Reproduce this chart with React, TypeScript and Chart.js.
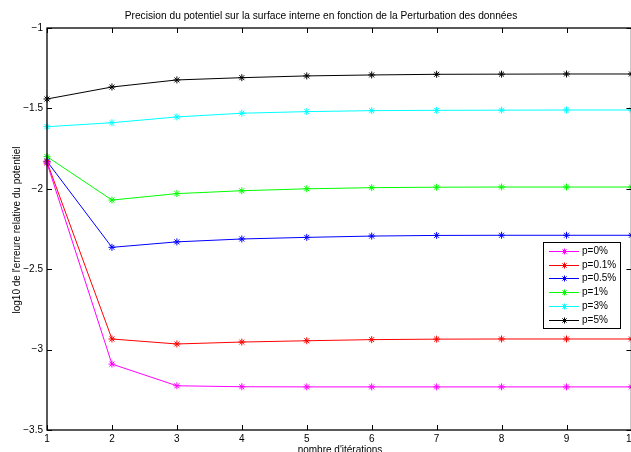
import React, { useEffect, useRef } from "react";
import { Chart, registerables } from "chart.js";

Chart.register(...registerables);

const iterations = [1, 2, 3, 4, 5, 6, 7, 8, 9, 10];
const seriesLabels = ["p=0%", "p=0.1%", "p=0.5%", "p=1%", "p=3%", "p=5%"];
const seriesColors = ["#ff00ff", "#ff0000", "#0000ff", "#00ff00", "#00ffff", "#000000"];
const p0 = [-1.84, -3.09, -3.225, -3.231, -3.232, -3.232, -3.232, -3.232, -3.232, -3.232];
const p01 = [-1.833, -2.934, -2.965, -2.953, -2.945, -2.938, -2.935, -2.934, -2.934, -2.934];
const p05 = [-1.829, -2.364, -2.33, -2.312, -2.302, -2.294, -2.29, -2.289, -2.289, -2.289];
const p1 = [-1.8, -2.07, -2.03, -2.012, -2.0, -1.993, -1.99, -1.989, -1.989, -1.989];
const p3 = [-1.614, -1.589, -1.553, -1.53, -1.52, -1.514, -1.512, -1.511, -1.51, -1.51];
const p5 = [-1.4415, -1.367, -1.323, -1.309, -1.298, -1.292, -1.288, -1.287, -1.286, -1.286];
const seriesValues = [p0, p01, p05, p1, p3, p5];

const titleText = "Precision du potentiel sur la surface interne en fonction de la Perturbation des données";
const xTitle = "nombre d'itérations";
const yTitle = "log10 de l'erreure relative du potentiel";

const FONT = "Liberation Sans, Arial, Helvetica, sans-serif";

function drawStar(ctx: CanvasRenderingContext2D, x: number, y: number, r: number) {
  ctx.beginPath();
  for (let k = 0; k < 4; k++) {
    const ang = (k * Math.PI) / 4;
    ctx.moveTo(x - r * Math.cos(ang), y - r * Math.sin(ang));
    ctx.lineTo(x + r * Math.cos(ang), y + r * Math.sin(ang));
  }
  ctx.stroke();
}

const overlay = {
  id: "overlay",
  afterDraw(chart: any) {
    const { ctx, chartArea: a, scales } = chart;
    ctx.save();
    // frame
    ctx.strokeStyle = "#000";
    ctx.lineWidth = 1.3;
    ctx.strokeRect(a.left, a.top, a.right - a.left, a.bottom - a.top);
    ctx.lineWidth = 1;
    ctx.beginPath();
    for (const t of scales.x.ticks) {
      const px = Math.round(scales.x.getPixelForValue(t.value)) + 0.5;
      ctx.moveTo(px, a.bottom);
      ctx.lineTo(px, a.bottom - 5);
      ctx.moveTo(px, a.top);
      ctx.lineTo(px, a.top + 5);
    }
    for (const t of scales.y.ticks) {
      const py = Math.round(scales.y.getPixelForValue(t.value)) + 0.5;
      ctx.moveTo(a.left, py);
      ctx.lineTo(a.left + 5, py);
      ctx.moveTo(a.right, py);
      ctx.lineTo(a.right - 5, py);
    }
    ctx.stroke();

    // legend
    const bx = 543, by = 242, bw = 77, bh = 86;
    ctx.fillStyle = "#fff";
    ctx.fillRect(bx, by, bw, bh);
    ctx.strokeStyle = "#000";
    ctx.lineWidth = 1;
    ctx.strokeRect(bx + 0.5, by + 0.5, bw, bh);
    ctx.font = `10px ${FONT}`;
    ctx.textBaseline = "middle";
    ctx.textAlign = "left";
    chart.data.datasets.forEach((ds: any, i: number) => {
      const y = Math.round(251 + i * 13.7) + 0.5;
      ctx.strokeStyle = ds.borderColor;
      ctx.lineWidth = 1;
      ctx.beginPath();
      ctx.moveTo(549, y);
      ctx.lineTo(579, y);
      ctx.stroke();
      drawStar(ctx, 564.5, y, 3);
      ctx.fillStyle = "#000";
      ctx.fillText(ds.label, 582, y);
    });

    // titles
    ctx.fillStyle = "#000";
    ctx.font = `10.2px ${FONT}`;
    ctx.textAlign = "center";
    ctx.textBaseline = "middle";
    ctx.fillText(titleText, 321, 16);
    ctx.font = `10px ${FONT}`;
    ctx.textBaseline = "top";
    ctx.fillText(xTitle, 340, 445);
    ctx.save();
    ctx.translate(17, 230);
    ctx.rotate(-Math.PI / 2);
    ctx.textBaseline = "middle";
    ctx.fillText(yTitle, 0, 0);
    ctx.restore();
    ctx.restore();
  },
};

const fmtMinus = (v: number) => {
  const s = String(Math.round(v * 10) / 10);
  return s.replace("-", "\u2212");
};

export default function App() {
  const ref = useRef<HTMLCanvasElement | null>(null);
  useEffect(() => {
    if (!ref.current) return;
    const chart = new Chart(ref.current, {
      type: "line",
      data: {
        datasets: seriesValues.map((vals, i) => ({
          label: seriesLabels[i],
          data: iterations.map((x, j) => ({ x, y: vals[j] })),
          borderColor: seriesColors[i],
          backgroundColor: seriesColors[i],
          borderWidth: 1,
          pointStyle: "star",
          pointRadius: 3.5,
          pointBorderWidth: 1,
          pointBorderColor: seriesColors[i],
          tension: 0,
          fill: false,
          clip: false as any,
        })),
      },
      options: {
        responsive: false,
        animation: false,
        devicePixelRatio: 1,
        layout: { padding: { top: 28, right: 8, bottom: 0, left: 0 } },
        plugins: {
          legend: { display: false },
          title: { display: false },
          tooltip: { enabled: false },
        },
        scales: {
          x: {
            type: "linear",
            min: 1,
            max: 10,
            grid: { display: false, drawTicks: false },
            border: { display: false },
            ticks: {
              stepSize: 1,
              autoSkip: false,
              maxRotation: 0,
              padding: 3,
              color: "#000",
              font: { family: FONT, size: 10 },
            },
            afterFit: (s: any) => {
              s.height = 22;
            },
          },
          y: {
            type: "linear",
            min: -3.5,
            max: -1,
            grid: { display: false, drawTicks: false },
            border: { display: false },
            ticks: {
              stepSize: 0.5,
              padding: 4,
              color: "#000",
              font: { family: FONT, size: 10 },
              callback: (v: any) => fmtMinus(Number(v)),
            },
            afterFit: (s: any) => {
              s.width = 47;
            },
          },
        },
      },
      plugins: [overlay],
    });
    return () => chart.destroy();
  }, []);
  return (
    <div style={{ position: "absolute", left: 0, top: 0, width: 631, height: 452, overflow: "hidden", background: "#fff" }}>
      <canvas ref={ref} width={640} height={452} style={{ width: 640, height: 452, display: "block" }} />
    </div>
  );
}
